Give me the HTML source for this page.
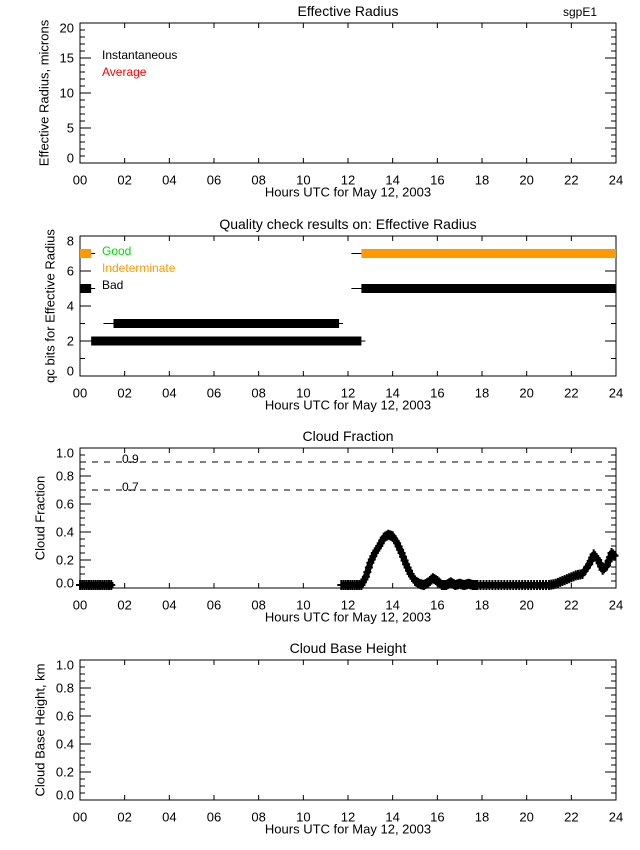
<!DOCTYPE html>
<html><head><meta charset="utf-8"><style>
body{margin:0;background:#fff;}
svg{display:block;font-family:"Liberation Sans",sans-serif;}
</style></head><body>
<svg id="c" width="640" height="850" viewBox="0 0 640 850"></svg>
<script>
const hours=[0,2,4,6,8,10,12,14,16,18,20,22,24];
const hourLabels=["00","02","04","06","08","10","12","14","16","18","20","22","24"];
const qcBars=[{y:2,x0:0.5,x1:12.6,c:"#000"},{y:3,x0:1.5,x1:11.6,c:"#000"},{y:5,x0:0,x1:0.5,c:"#000"},{y:5,x0:12.6,x1:24,c:"#000"},{y:7,x0:0,x1:0.5,c:"#ff9900"},{y:7,x0:12.6,x1:24,c:"#ff9900"}];
const cfTimes1=[0,0.3,0.6,0.9,1.2,1.5];
const cfVals1=[0,0,0,0,0,0];
const cfTimes2=[11.7,12.0,12.3,12.6,12.8,13.0,13.2,13.4,13.6,13.8,14.0,14.2,14.4,14.6,14.8,15.0,15.2,15.4,15.6,15.8,16.0,16.2,16.4,16.6,16.8,17.0,17.2,17.4,17.6,17.8,18.2,18.6,19.0,19.4,19.8,20.2,20.6,21.0,21.3,21.6,21.9,22.2,22.5,22.8,23.0,23.2,23.4,23.6,23.8,24.0];
const cfVals2=[0,0,0,0.01,0.08,0.18,0.25,0.30,0.36,0.38,0.37,0.32,0.25,0.17,0.10,0.05,0.03,0.015,0.04,0.07,0.05,0.02,0.01,0.04,0.02,0.03,0.01,0.03,0.01,0,0,0,0,0,0,0.005,0.01,0.02,0.03,0.05,0.07,0.09,0.10,0.17,0.24,0.20,0.13,0.16,0.25,0.22];
const thresholds=[0.9,0.7];
const thresholdLabels=["0.9","0.7"];

const S=document.getElementById('c');
const NS="http://www.w3.org/2000/svg";
function mk(tag,a,parent){const e=document.createElementNS(NS,tag);for(const k in a)e.setAttribute(k,a[k]);(parent||S).appendChild(e);return e;}
function txt(s,x,y,opt,name){const e=mk('text',Object.assign({x:x,y:y,'font-size':13,'text-anchor':'middle','dominant-baseline':'central',fill:'#000'},opt||{}));e.textContent=s;

return e;}
const X0=80,X1=616;
const sx=h=>X0+(X1-X0)*h/24;

function panel(top,ymin,ymax,majors,minorStep,fmt,title,ytitle,ytx,key){
  const bot=top+140;
  const sy=v=>bot-(v-ymin)/(ymax-ymin)*140;
  const g=mk('g',{});
  
  
  const r=mk('rect',{x:X0,y:top,width:X1-X0,height:140,fill:'none',stroke:'#000','stroke-width':1},g);
  
  
  let d="";
  hours.forEach(h=>{const x=sx(h);d+=`M${x} ${bot}V${bot-5}M${x} ${top}V${top+5}`;});
  for(let v=ymin;v<=ymax+1e-9;v+=minorStep){const y=sy(v);d+=`M${X0} ${y}H${X0+5}M${X1} ${y}H${X1-5}`;}
  majors.forEach(v=>{const y=sy(v);d+=`M${X0} ${y}H${X0+11}M${X1} ${y}H${X1-11}`;});
  const p=mk('path',{d:d,stroke:'#000','stroke-width':1,fill:'none'},g);
  
  
  hours.forEach((h,i)=>txt(hourLabels[i],sx(h),bot+17,{},key+'-x-tick-label'));
  majors.forEach(v=>{let y=sy(v);if(v===ymax)y+=5;if(v===ymin)y-=5;txt(fmt(v),X0-6,y,{'text-anchor':'end'},key+'-y-tick-label');});
  txt("Hours UTC for May 12, 2003",348,bot+29,{},key+'-x-axis-title');
  txt(title,348,top-12,{'font-size':14},key+'-title');
  const t=txt(ytitle,ytx,top+70,{transform:`rotate(-90 ${ytx} ${top+70})`},key+'-y-axis-title');
  return sy;
}

// Panel 1
panel(23,0,20,[0,5,10,15,20],1,v=>String(v),"Effective Radius","Effective Radius, microns",44,'effective-radius');
txt("sgpE1",580,12,{'font-size':12},'site-label');
txt("Instantaneous",102,55,{'text-anchor':'start','font-size':12},'legend-instantaneous');
txt("Average",102,72,{'text-anchor':'start','font-size':12,fill:'#ff0000'},'legend-average');

// Panel 2
const sy2=panel(236,0,8,[0,2,4,6,8],1,v=>String(v),"Quality check  results on: Effective Radius","qc bits for Effective Radius",50,'qc');
qcBars.forEach(b=>{
  const y=sy2(b.y);
  const l=mk('line',{x1:Math.max(X0,sx(b.x0)-10),x2:Math.min(X1,sx(b.x1)+4),y1:y,y2:y,stroke:'#000','stroke-width':1});
  
  
  const r=mk('rect',{x:sx(b.x0),y:y-4.5,width:sx(b.x1)-sx(b.x0),height:9,fill:b.c});
  
  
});
txt("Good",102,251,{'text-anchor':'start','font-size':12,fill:'#00dd00'},'legend-good');
txt("Indeterminate",102,268,{'text-anchor':'start','font-size':12,fill:'#ff9900'},'legend-indeterminate');
txt("Bad",102,285,{'text-anchor':'start','font-size':12},'legend-bad');

// Panel 3
const f1=v=>v.toFixed(1);
const sy3=panel(448,0,1,[0,0.2,0.4,0.6,0.8,1.0],0.05,f1,"Cloud Fraction","Cloud Fraction",40,'cloud-fraction');
thresholds.forEach((t,i)=>{
  const y=sy3(t);
  const l=mk('line',{x1:X0,x2:X1,y1:y,y2:y,stroke:'#000','stroke-width':1,'stroke-dasharray':'6,6'});
  
  
  txt(thresholdLabels[i],122,y-3,{'text-anchor':'start','font-size':12},'threshold-label');
});
function series(ts,vs,name){
  const pts=ts.map((t,i)=>[sx(t),Math.min(sy3(vs[i]),sy3(0)-3)]);
  const pl=mk('polyline',{points:pts.map(p=>p.join(',')).join(' '),fill:'none',stroke:'#000','stroke-width':6,'stroke-linejoin':'round'});
  
  
  let d="";
  for(let i=0;i<pts.length-1;i++){
    for(let k=0;k<3;k++){const f=k/3;const x=pts[i][0]+(pts[i+1][0]-pts[i][0])*f,y=pts[i][1]+(pts[i+1][1]-pts[i][1])*f;d+=`M${x-4} ${y}H${x+4}M${x} ${y-5}V${y+5}`;}
  }
  const p=mk('path',{d:d,stroke:'#000','stroke-width':2,fill:'none'});
  
  
}
series(cfTimes1,cfVals1,'cloud-fraction-series-early');
series(cfTimes2,cfVals2,'cloud-fraction-series');

// Panel 4
panel(660,0,1,[0,0.2,0.4,0.6,0.8,1.0],0.05,f1,"Cloud Base Height","Cloud Base Height, km",40,'cloud-base-height');
</script>
</body></html>
